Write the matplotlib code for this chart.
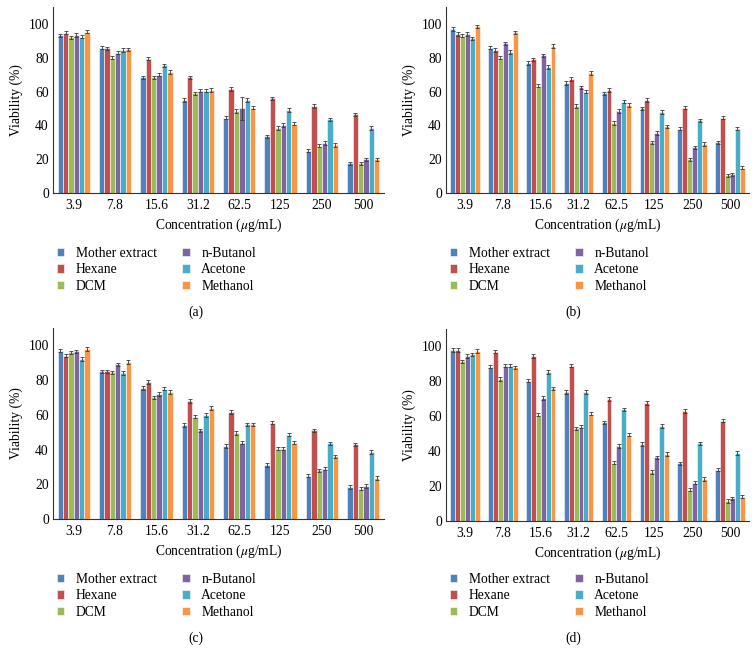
import matplotlib
matplotlib.use('Agg')
import matplotlib.pyplot as plt
import numpy as np

plt.rcParams['font.family'] = ['Liberation Serif', 'DejaVu Serif']
plt.rcParams['mathtext.fontset'] = 'stix'

concs = ['3.9', '7.8', '15.6', '31.2', '62.5', '125', '250', '500']
solvents = ['Mother extract', 'Hexane', 'DCM', 'n-Butanol', 'Acetone', 'Methanol']
colors = ['#4F81BD', '#C0504D', '#9BBB59', '#8064A2', '#4BACC6', '#F79646']

# panel (a)
a_mother = [93.3, 86.0, 68.5, 55.0, 44.5, 33.5, 25.0, 17.5]
a_hexane = [94.8, 85.5, 79.5, 68.5, 61.5, 56.0, 51.5, 46.5]
a_dcm = [92.0, 80.0, 68.5, 59.0, 48.5, 38.5, 28.0, 17.5]
a_butanol = [93.5, 83.0, 70.0, 60.5, 50.0, 40.5, 29.5, 20.0]
a_acetone = [92.5, 84.5, 75.5, 60.5, 55.0, 49.0, 43.5, 38.5]
a_methanol = [95.5, 85.0, 71.5, 61.0, 50.5, 41.0, 28.5, 20.0]
a_err_butanol = [1.0, 1.0, 1.0, 1.0, 7.0, 1.2, 1.2, 1.0]

# panel (b)
b_mother = [97.0, 86.0, 77.0, 65.0, 59.0, 50.0, 38.0, 30.0]
b_hexane = [94.0, 84.5, 79.0, 67.5, 61.0, 55.0, 50.5, 44.5]
b_dcm = [93.0, 80.0, 63.5, 51.5, 41.5, 30.0, 20.0, 10.5]
b_butanol = [94.0, 88.5, 81.5, 62.5, 48.5, 35.5, 27.0, 11.0]
b_acetone = [91.5, 83.5, 74.5, 60.0, 54.0, 48.0, 43.0, 38.0]
b_methanol = [98.5, 95.0, 87.0, 71.0, 52.0, 39.5, 29.0, 15.0]

# panel (c)
c_mother = [97.0, 85.0, 75.5, 54.0, 42.0, 31.0, 25.0, 18.5]
c_hexane = [94.0, 85.0, 79.0, 68.0, 61.5, 55.5, 51.0, 43.0]
c_dcm = [96.0, 84.5, 70.0, 59.0, 49.5, 40.5, 28.0, 17.5]
c_butanol = [96.5, 89.0, 72.0, 51.0, 44.0, 40.5, 29.0, 19.0]
c_acetone = [92.0, 84.0, 75.0, 60.0, 54.5, 48.5, 43.5, 38.5]
c_methanol = [98.0, 90.5, 73.0, 64.0, 54.5, 44.0, 36.0, 23.5]

# panel (d)
d_mother = [98.0, 88.5, 80.5, 74.0, 56.5, 44.0, 33.0, 29.5]
d_hexane = [98.0, 97.0, 94.5, 89.0, 70.0, 67.5, 63.0, 57.5]
d_dcm = [91.5, 81.5, 61.0, 53.0, 33.5, 28.0, 18.0, 11.5]
d_butanol = [94.5, 89.0, 70.5, 54.0, 43.0, 36.5, 22.0, 13.0]
d_acetone = [95.5, 89.0, 85.5, 74.0, 64.0, 54.5, 44.5, 39.0]
d_methanol = [97.5, 88.0, 76.0, 61.5, 49.5, 38.5, 24.0, 14.0]

err = 1.0
fs = 9.8

fig = plt.figure(figsize=(7.56, 6.51), dpi=100)

panels = [
    ('(a)', [a_mother, a_hexane, a_dcm, a_butanol, a_acetone, a_methanol],
     [0.0701, 0.7035, 0.4378, 0.2857], (57 / 756, 1 - 247 / 651), (196 / 756, 1 - 312 / 651)),
    ('(b)', [b_mother, b_hexane, b_dcm, b_butanol, b_acetone, b_methanol],
     [0.5899, 0.7035, 0.4008, 0.2857], (450 / 756, 1 - 247 / 651), (573 / 756, 1 - 312 / 651)),
    ('(c)', [c_mother, c_hexane, c_dcm, c_butanol, c_acetone, c_methanol],
     [0.0701, 0.2028, 0.4378, 0.2934], (57 / 756, 1 - 573 / 651), (196 / 756, 1 - 638 / 651)),
    ('(d)', [d_mother, d_hexane, d_dcm, d_butanol, d_acetone, d_methanol],
     [0.5899, 0.1997, 0.4008, 0.2949], (450 / 756, 1 - 573 / 651), (573 / 756, 1 - 638 / 651)),
]

x = np.arange(len(concs))
w = 0.13
for cap, series, rect, legpos, cappos in panels:
    ax = fig.add_axes(rect)
    handles = []
    for i, vals in enumerate(series):
        e = a_err_butanol if (cap == '(a)' and i == 3) else err
        b = ax.bar(x + (i - 2.5) * w, vals, w, color=colors[i], edgecolor='white',
                   linewidth=0.4, yerr=e,
                   error_kw=dict(ecolor='#3a3a3a', elinewidth=0.6, capsize=1.6, capthick=0.6))
        handles.append(b)
    ax.set_xlim(-0.5, 7.5)
    ax.set_ylim(0, 110)
    ax.set_yticks([0, 20, 40, 60, 80, 100])
    ax.set_xticks(x)
    ax.set_xticklabels(concs)
    ax.tick_params(axis='x', length=0, labelsize=fs, pad=4)
    ax.tick_params(axis='y', length=0, labelsize=fs, pad=3)
    for s in ['top', 'right']:
        ax.spines[s].set_visible(False)
    for s in ['left', 'bottom']:
        ax.spines[s].set_linewidth(0.8)
        ax.spines[s].set_color('#333333')
    ax.set_ylabel('Viability (%)', fontsize=fs, labelpad=4)
    ax.set_xlabel(r'Concentration ($\mu$g/mL)', fontsize=fs, labelpad=4)
    fig.legend(handles, solvents, loc='upper left', bbox_to_anchor=legpos, ncol=2,
               frameon=False, fontsize=fs, borderpad=0, borderaxespad=0,
               handlelength=0.55, handleheight=0.55, handletextpad=0.85,
               columnspacing=1.85, labelspacing=0.25)
    fig.text(cappos[0], cappos[1], cap, ha='center', va='center', fontsize=fs)

fig.savefig('out.png', dpi=100)
